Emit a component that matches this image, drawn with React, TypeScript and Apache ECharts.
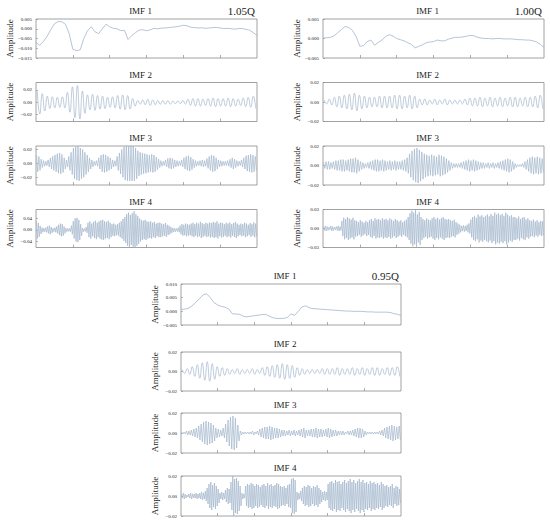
import React, { useEffect, useRef } from "react";
import * as echarts from "echarts";

// ---------- data (amplitudes in units of 1e-3) ----------
const X_MAX = 600;
const TREND_STEP = 10;
const xTickValues = [100, 200, 300, 400, 500];

// 1.05Q
const imf1_105 = [-7, -8.5, -6.5, -4, -0.5, 2.5, 3.7, 3.6, 2.3, -2.5, -10.5, -11.2, -10.8, -5, -1, 1, -1.5, -2.5, 0, 2.3, 1, 0.2, 0, -1, -0.8, -5.5, -3.5, -2, -0.7, -0.5, -1, -0.6, 0.2, 0, 0.3, 0.4, 0.6, 0.8, 1, 1.3, 1.8, 1.5, 0.8, 0.6, 0.4, 0.5, 0.2, 0.4, 0.6, 0.7, 0.4, 0.1, 0.2, 0, -0.2, 0.1, 0.1, -0.3, -0.8, -2, -3.5];
const imf2_105 = [19, 14, 10, 9, 8, 9, 16, 25, 27, 18, 12, 13, 11, 10, 8, 9, 11, 12, 11, 6, 3, 4, 5, 4, 3, 3, 3, 2, 2, 3, 5, 6, 6, 5, 6, 7, 6, 6, 7, 6, 5, 7, 8, 10];
const imf3_105 = [12, 10, 6, 4, 3, 5, 8, 10, 12, 14, 15, 13, 8, 5, 10, 16, 22, 24, 25, 22, 20, 16, 12, 8, 5, 3, 4, 8, 12, 13, 12, 10, 8, 5, 4, 10, 15, 20, 24, 25, 25, 25, 25, 22, 18, 16, 15, 14, 13, 12, 13, 12, 9, 6, 4, 3, 5, 7, 8, 7, 5, 4, 3, 5, 8, 10, 11, 9, 6, 4, 3, 4, 5, 4, 7, 10, 12, 11, 8, 5, 4, 3, 3, 4, 6, 8, 6, 4, 3, 5, 8, 11, 12, 13, 12, 10];
const imf4_105 = [30, 24, 14, 8, 6, 8, 12, 15, 10, 6, 8, 12, 18, 22, 20, 12, 6, 5, 6, 15, 30, 40, 42, 35, 20, 6, 5, 10, 25, 30, 22, 28, 32, 25, 30, 33, 35, 30, 28, 32, 25, 20, 22, 18, 20, 25, 30, 38, 45, 55, 60, 52, 58, 65, 55, 48, 40, 35, 32, 35, 30, 28, 30, 25, 28, 22, 25, 25, 22, 20, 24, 18, 15, 10, 7, 6, 5, 8, 15, 20, 18, 22, 20, 18, 22, 25, 20, 25, 22, 28, 24, 20, 25, 22, 26, 24, 28, 25, 30, 22, 26, 24, 20, 25, 22, 26, 20, 24, 28, 22, 18, 22, 20, 25, 22, 18, 24, 20, 26, 22];

// 1.00Q
const imf1_100 = [0.1, 0.2, 0.3, 0.7, 1.5, 2.3, 3.1, 2.8, 2.1, 0.5, -2, -1.8, -0.8, -0.4, -1.7, -1, -0.4, 0.5, 1, 0.6, 0, -0.3, -0.6, -1.1, -1.5, -2.4, -2, -1.6, -1.1, -0.9, -0.8, -0.4, -0.6, -0.6, -0.2, 0.1, 0.3, 0.3, 0.4, 0.6, 0.8, 0.7, 0.3, 0.1, 0, 0, -0.1, 0, 0, -0.1, -0.1, -0.1, -0.2, -0.3, -0.3, -0.4, -0.4, -0.6, -0.9, -1.5, -2.3];
const imf2_100 = [2, 3, 5, 6, 7, 8, 9, 7, 6, 5, 5, 6, 6, 6, 7, 7, 6, 7, 6, 3, 3, 2, 3, 2, 3, 2, 2, 2, 3, 4, 4, 5, 4, 5, 4, 5, 4, 5, 5, 4, 5, 5, 6, 7];
const imf3_100 = [3, 4, 4, 3, 4, 5, 5, 6, 6, 5, 6, 7, 7, 8, 6, 4, 3, 2, 3, 4, 5, 6, 6, 5, 6, 5, 4, 5, 4, 5, 4, 4, 5, 6, 8, 12, 15, 17, 18, 16, 14, 12, 11, 10, 11, 10, 9, 11, 10, 9, 7, 5, 3, 2, 2, 2, 3, 4, 5, 6, 5, 6, 5, 4, 3, 3, 2, 3, 2, 3, 2, 3, 4, 5, 6, 7, 6, 4, 2, 1, 1, 2, 4, 6, 8, 9, 8, 9, 8, 7];
const imf4_100 = [3, 4, 3, 2, 4, 3, 2, 3, 4, 3, 12, 17, 15, 18, 16, 14, 17, 13, 12, 10, 13, 11, 9, 12, 10, 13, 15, 12, 16, 14, 15, 13, 16, 14, 15, 13, 16, 14, 12, 15, 13, 11, 13, 10, 12, 14, 18, 24, 28, 25, 29, 22, 26, 18, 15, 13, 16, 14, 13, 16, 18, 15, 17, 14, 16, 18, 15, 14, 15, 13, 12, 14, 10, 8, 6, 4, 5, 4, 6, 8, 14, 18, 20, 17, 22, 19, 21, 18, 20, 22, 19, 23, 20, 25, 22, 24, 21, 23, 20, 25, 22, 19, 21, 18, 18, 16, 19, 15, 17, 18, 14, 16, 13, 12, 14, 11, 13, 10, 12, 11];

// 0.95Q
const imf1_095 = [0.7, 0.8, 1.1, 2, 3.2, 4.6, 6, 6.4, 5, 3.2, 2.3, 1.8, 1.5, 0.9, -0.9, -1, -1.1, -1.8, -2, -1.8, -1.6, -1.4, -1.2, -1.1, -1.7, -2.3, -2.6, -2.6, -2.6, -2.2, -0.9, -1.5, 0, 1.6, 2, 1.3, 1, 0.9, 0.8, 0.7, 0.6, 0.5, 0.4, 0.3, 0.2, 0.1, 0.1, 0, 0, 0, -0.1, -0.2, -0.2, -0.3, -0.3, -0.3, -0.3, -0.4, -0.8, -1.1, -1.5];
const imf2_095 = [2, 3, 5, 7, 9, 10, 8, 5, 4, 3, 2, 3, 2, 2, 3, 2, 4, 5, 6, 7, 8, 7, 6, 4, 3, 2, 2, 2, 3, 3, 3, 4, 3, 3, 4, 3, 4, 3, 4, 4, 3, 4, 4, 5];
const imf3_095 = [1, 1, 2, 2, 3, 4, 5, 7, 9, 11, 12, 11, 10, 8, 5, 4, 3, 5, 9, 13, 16, 17, 15, 8, 2, 1, 1, 1, 1, 2, 1, 2, 4, 5, 6, 6, 7, 6, 5, 5, 4, 3, 3, 2, 3, 2, 3, 2, 3, 4, 5, 3, 3, 4, 4, 5, 4, 4, 3, 4, 5, 4, 3, 3, 2, 2, 2, 1, 2, 2, 3, 4, 5, 5, 4, 2, 1, 1, 1, 1, 1, 2, 3, 5, 6, 7, 8, 7, 6, 7];
const imf4_095 = [2, 3, 2, 1, 2, 3, 2, 2, 3, 2, 3, 4, 3, 5, 8, 12, 14, 11, 13, 10, 7, 3, 4, 3, 6, 8, 7, 14, 20, 17, 18, 15, 10, 3, 2, 10, 12, 11, 13, 12, 10, 12, 11, 9, 11, 12, 10, 13, 11, 12, 10, 11, 13, 12, 10, 9, 10, 8, 11, 12, 17, 18, 16, 4, 3, 5, 8, 10, 9, 11, 10, 8, 10, 9, 11, 8, 6, 4, 5, 4, 12, 14, 15, 13, 16, 14, 15, 12, 14, 16, 13, 15, 17, 14, 16, 13, 15, 17, 14, 16, 13, 14, 12, 15, 13, 14, 12, 13, 11, 14, 12, 10, 11, 9, 10, 12, 8, 10, 9, 7];

const groupLabels = ["1.05Q", "1.00Q", "0.95Q"];
const imfTitles = ["IMF 1", "IMF 2", "IMF 3", "IMF 4"];

// y ranges / tick labels per panel
const yRanges = [
  [[-0.015, 0.005], [-0.031, 0.032], [-0.031, 0.025], [-0.061, 0.071]],
  [[-0.005, 0.005], [-0.02, 0.02], [-0.02, 0.02], [-0.03, 0.03]],
  [[-0.005, 0.01], [-0.02, 0.02], [-0.02, 0.02], [-0.02, 0.02]],
];
const yTicks = [
  [[-0.015, -0.01, -0.005, 0, 0.005], [-0.02, 0, 0.02], [-0.02, 0, 0.02], [-0.04, 0, 0.04]],
  [[-0.005, 0, 0.005], [-0.02, 0, 0.02], [-0.02, 0, 0.02], [-0.03, 0, 0.03]],
  [[-0.005, 0, 0.005, 0.01], [-0.02, 0, 0.02], [-0.02, 0, 0.02], [-0.02, 0, 0.02]],
];
const groupData = [
  [imf1_105, imf2_105, imf3_105, imf4_105],
  [imf1_100, imf2_100, imf3_100, imf4_100],
  [imf1_095, imf2_095, imf3_095, imf4_095],
];

// ---------- layout ----------
const groupLayout = [
  { left: 36, width: 221, tops: [19, 82.5, 146, 209.5], heights: [39, 39, 39, 38] },
  { left: 323, width: 221, tops: [19, 82.5, 146, 209.5], heights: [39, 39, 39, 38] },
  { left: 181, width: 220, tops: [284, 352, 413, 476], heights: [41, 39, 40, 40] },
];

const LINE_COLOR = "#a2b6cb";
const FRAME_COLOR = "#8a8a8a";
const TEXT_COLOR = "#222";
const FONT = "Liberation Serif";

function trendSeries(vals: number[]) {
  return vals.map((v, i) => [i * TREND_STEP, v / 1000]);
}
function oscSeries(amps: number[]) {
  const p = X_MAX / amps.length;
  const out: number[][] = [];
  amps.forEach((a, i) => {
    out.push([i * p + p / 4, a / 1000]);
    out.push([i * p + (3 * p) / 4, -a / 1000]);
  });
  return out;
}
function fmt(v: number, dec: number) {
  const s = Math.abs(v).toFixed(dec);
  return v < 0 ? "\u2212" + s : s;
}

function buildOption() {
  const grid: any[] = [];
  const xAxis: any[] = [];
  const yAxis: any[] = [];
  const series: any[] = [];
  const graphic: any[] = [];
  let idx = 0;
  groupLayout.forEach((g, gi) => {
    for (let k = 0; k < 4; k++) {
      const top = g.tops[k];
      const h = g.heights[k];
      grid.push({
        left: g.left, top, width: g.width, height: h,
        show: true, borderColor: FRAME_COLOR, borderWidth: 0.8,
        backgroundColor: "transparent", containLabel: false,
      });
      xAxis.push({
        type: "value", gridIndex: idx, min: 0, max: X_MAX, interval: 100,
        position: "bottom",
        axisLine: { show: false, onZero: false },
        axisLabel: { show: false },
        axisTick: { show: true, inside: true, length: 3, customValues: xTickValues, lineStyle: { color: FRAME_COLOR, width: 0.7 } },
        splitLine: { show: false },
      });
      const dec = k === 0 ? 3 : 2;
      const [ymin, ymax] = yRanges[gi][k];
      yAxis.push({
        type: "value", gridIndex: idx, min: ymin, max: ymax,
        position: "left",
        axisLine: { show: false, onZero: false },
        splitLine: { show: false },
        axisTick: { show: true, inside: true, length: 2, customValues: yTicks[gi][k], lineStyle: { color: FRAME_COLOR, width: 0.6 } },
        axisLabel: {
          show: true, customValues: yTicks[gi][k], margin: 4,
          fontSize: 5, fontFamily: FONT, color: TEXT_COLOR,
          formatter: (v: number) => fmt(v, dec),
        },
      });
      const d = groupData[gi][k];
      series.push({
        type: "line", xAxisIndex: idx, yAxisIndex: idx,
        data: k === 0 ? trendSeries(d) : oscSeries(d),
        showSymbol: false, symbol: "none", silent: true,
        smooth: k === 1 ? 0.5 : false,
        lineStyle: { color: LINE_COLOR, width: k === 0 ? 0.8 : 0.7 },
      });
      graphic.push({
        type: "text", x: g.left + g.width / 2 - 6, y: top - 8,
        style: { text: imfTitles[k], fontSize: 9, fontFamily: FONT, fill: TEXT_COLOR, textAlign: "center", textVerticalAlign: "middle" },
      });
      graphic.push({
        type: "text", x: g.left - 26, y: top + h / 2, rotation: Math.PI / 2,
        style: { text: "Amplitude", fontSize: 9, fontFamily: FONT, fill: TEXT_COLOR, textAlign: "center", textVerticalAlign: "middle" },
      });
      idx++;
    }
    graphic.push({
      type: "text", x: g.left + g.width - 2, y: g.tops[0] - 8,
      style: { text: groupLabels[gi], fontSize: 11, fontFamily: FONT, fill: TEXT_COLOR, textAlign: "right", textVerticalAlign: "middle" },
    });
  });
  return { animation: false, backgroundColor: "#fff", grid, xAxis, yAxis, series, graphic };
}

export default function App() {
  const ref = useRef<HTMLDivElement>(null);
  useEffect(() => {
    if (!ref.current) return;
    const chart = echarts.init(ref.current, undefined, { renderer: "svg" });
    chart.setOption(buildOption() as any);
    return () => chart.dispose();
  }, []);
  return (
    <div
      ref={ref}
      style={{ position: "absolute", left: 0, top: 0, width: 550, height: 524, background: "#fff" }}
    />
  );
}
